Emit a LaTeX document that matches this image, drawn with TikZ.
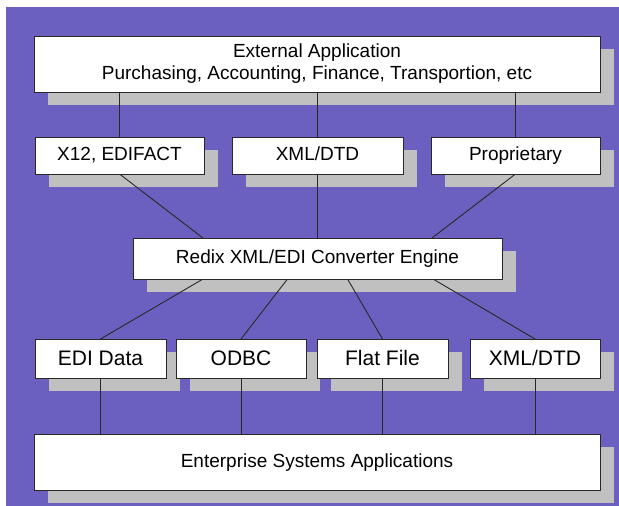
\documentclass[tikz,border=0pt]{standalone}
\usepackage{fontspec}
\setmainfont{Liberation Sans}
\definecolor{bgpurple}{RGB}{107,96,191}
\definecolor{shadowgray}{RGB}{192,192,192}
\definecolor{boxline}{RGB}{40,40,40}
\pgfdeclarelayer{bg}
\pgfdeclarelayer{shad}
\pgfdeclarelayer{lines}
\pgfsetlayers{bg,shad,lines,main}
\tikzset{
  box/.style={draw=boxline, fill=white, line width=1pt, inner sep=0pt, outer sep=0pt,
              font=\fontsize{19}{22}\selectfont, align=center},
  onebox/.style={box, text height=14pt, text depth=4pt},
  lowbox/.style={box, font=\fontsize{21}{24}\selectfont, text height=16pt, text depth=3pt},
  conn/.style={draw=boxline, line width=0.9pt},
  shadowfill/.style={fill=shadowgray}
}
\newcommand{\boxshadow}[1]{%
  \fill[shadowfill] ([shift={(14,13)}]#1.south west) rectangle ([shift={(14,13)}]#1.north east);}
\begin{document}
\begin{tikzpicture}[x=1pt,y=-1pt]
\useasboundingbox (0,0) rectangle (619,506);
% nodes
\node[box, minimum width=566pt, minimum height=56pt] (top) at (317,64)
  {External Application\\Purchasing, Accounting, Finance, Transportion, etc};
\node[onebox, minimum width=169pt, minimum height=37pt] (x12) at (119.5,155.5) {X12, EDIFACT};
\node[onebox, minimum width=171pt, minimum height=37pt] (xml1) at (317.5,155.5) {XML/DTD};
\node[onebox, minimum width=169pt, minimum height=37pt] (prop) at (515.5,155.5) {Proprietary};
\node[onebox, minimum width=369pt, minimum height=41pt] (conv) at (317.5,258.5) {Redix XML/EDI Converter Engine};
\node[lowbox, minimum width=131pt, minimum height=39pt] (edi) at (100.5,358.5) {EDI Data};
\node[lowbox, minimum width=130pt, minimum height=39pt] (odbc) at (241,358.5) {ODBC};
\node[lowbox, minimum width=131pt, minimum height=39pt] (flat) at (382.5,358.5) {Flat File};
\node[lowbox, minimum width=130pt, minimum height=39pt] (xml2) at (535,358.5) {XML/DTD};
\node[onebox, minimum width=566pt, minimum height=56pt] (ent) at (317,462) {Enterprise Systems Applications};
% background
\begin{pgfonlayer}{bg}
  \fill[bgpurple] (6,7) rectangle (619,506);
\end{pgfonlayer}
% shadows
\begin{pgfonlayer}{shad}
  \boxshadow{top}
  \boxshadow{x12}
  \boxshadow{xml1}
  \boxshadow{prop}
  \boxshadow{conv}
  \boxshadow{edi}
  \boxshadow{odbc}
  \boxshadow{flat}
  \boxshadow{xml2}
  \boxshadow{ent}
\end{pgfonlayer}
% connectors
\begin{pgfonlayer}{lines}
  \draw[conn] (x12.north |- top.south) -- (x12.north);
  \draw[conn] (xml1.north |- top.south) -- (xml1.north);
  \draw[conn] (prop.north |- top.south) -- (prop.north);
  \draw[conn] (x12.south) -- ([xshift=70pt]conv.north west);
  \draw[conn] (xml1.south) -- (xml1.south |- conv.north);
  \draw[conn] (prop.south) -- ([xshift=-70pt]conv.north east);
  \draw[conn] ([xshift=70pt]conv.south west) -- (edi.north);
  \draw[conn] ([xshift=-30pt]conv.south) -- (odbc.north);
  \draw[conn] ([xshift=30pt]conv.south) -- (flat.north);
  \draw[conn] ([xshift=-69pt]conv.south east) -- (xml2.north);
  \draw[conn] (edi.south) -- (edi.south |- ent.north);
  \draw[conn] (odbc.south) -- (odbc.south |- ent.north);
  \draw[conn] (flat.south) -- (flat.south |- ent.north);
  \draw[conn] (xml2.south) -- (xml2.south |- ent.north);
\end{pgfonlayer}
\end{tikzpicture}
\end{document}
